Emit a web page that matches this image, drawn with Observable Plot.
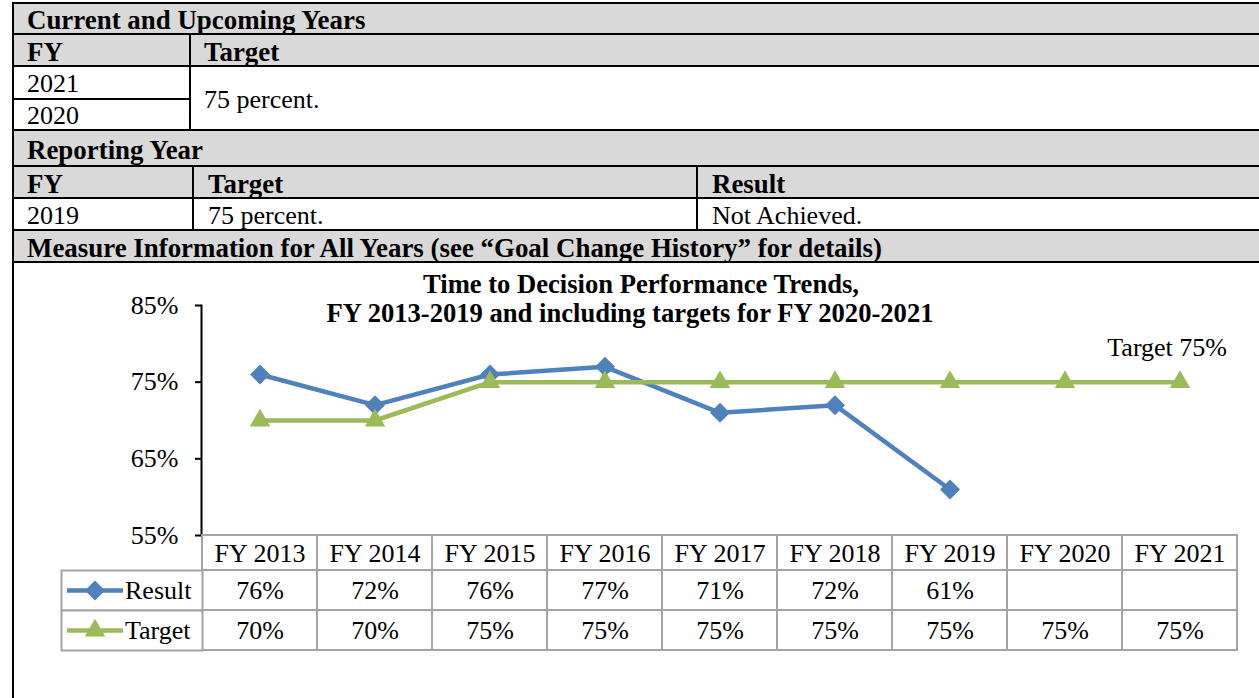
<!DOCTYPE html>
<html><head><meta charset="utf-8">
<script src="https://cdn.jsdelivr.net/npm/d3@7"></script>
<script src="https://cdn.jsdelivr.net/npm/@observablehq/plot@0.6"></script>
<style>
html,body{margin:0;padding:0;background:#fff;}
#page{position:relative;width:1259px;height:698px;overflow:hidden;font-family:"Liberation Serif","Times New Roman",serif;font-size:26px;color:#000;}
.box{position:absolute;}
.gray{background:#d9d9d9;}
.ln{position:absolute;background:#000;}
.txt{position:absolute;display:flex;align-items:center;line-height:26px;white-space:nowrap;}
.b{font-weight:bold;font-size:26.9px;}
.plotwrap{position:absolute;left:0;}
.plotwrap svg{overflow:visible;}
</style></head><body><div id="page"></div>
<script>
// ---------- data ----------
const years = ["FY 2013","FY 2014","FY 2015","FY 2016","FY 2017","FY 2018","FY 2019","FY 2020","FY 2021"];
const resultValues = [76, 72, 76, 77, 71, 72, 61];
const targetValues = [70, 70, 75, 75, 75, 75, 75, 75, 75];
const seriesNames = ["Result", "Target"];
const yTicks = [55, 65, 75, 85];
const titleLines = ["Time to Decision Performance Trends,", "FY 2013-2019 and including targets for FY 2020-2021"];
const annotationText = "Target 75%";
const upcomingHeader = "Current and Upcoming Years";
const upcomingYears = ["2021", "2020"];
const upcomingTarget = "75 percent.";
const reportingHeader = "Reporting Year";
const reportingYear = "2019";
const reportingTarget = "75 percent.";
const reportingResult = "Not Achieved.";
const measureHeader = "Measure Information for All Years (see \u201cGoal Change History\u201d for details)";
const colHeaders = ["FY", "Target", "Result"];

// ---------- styles ----------
const BLUE = "#4f81bd", GREEN = "#9bbb59", GRID = "#a3a3a3";
const FONT = "Liberation Serif, Times New Roman, serif";
const page = document.getElementById("page");

function el(cls, x, y, w, h, txt, bold) {
  const d = document.createElement("div");
  d.className = cls + (bold ? " b" : "");
  d.style.left = x + "px"; d.style.top = y + "px";
  if (w != null) d.style.width = w + "px";
  if (h != null) d.style.height = h + "px";
  if (txt != null) d.textContent = txt;
  page.appendChild(d);
  return d;
}

// gray header rows
[[2,34],[34,66],[130,166],[166,198],[230,262]].forEach(([a,b]) => el("box gray", 13, a, 1260, b - a));
// horizontal borders
[2.5,34,66,130,166,198,230,262].forEach(y => el("ln", 12, y - 1, 1260, 2));
el("ln", 12, 98, 178, 2);            // 2021 / 2020 divider
// vertical borders
el("ln", 12, 1.5, 2, 700);            // left border
el("ln", 189, 34, 2, 96);             // FY | Target (upcoming)
el("ln", 192, 166, 2, 64);            // FY | Target (reporting)
el("ln", 696, 166, 2, 64);            // Target | Result

// texts (row top, height)
const dy = 1.5;
el("txt", 27, 2 + dy, null, 32, upcomingHeader, true);
el("txt", 27, 34 + dy, null, 32, colHeaders[0], true);
el("txt", 204, 34 + dy, null, 32, colHeaders[1], true);
el("txt", 27, 66 + dy, null, 32, upcomingYears[0]);
el("txt", 27, 98 + dy, null, 32, upcomingYears[1]);
el("txt", 204, 66 + dy, null, 64, upcomingTarget);
el("txt", 27, 130 + dy, null, 36, reportingHeader, true);
el("txt", 27, 166 + dy, null, 32, colHeaders[0], true);
el("txt", 208, 166 + dy, null, 32, colHeaders[1], true);
el("txt", 712, 166 + dy, null, 32, colHeaders[2], true);
el("txt", 27, 198 + dy, null, 32, reportingYear);
el("txt", 208, 198 + dy, null, 32, reportingTarget);
el("txt", 712, 198 + dy, null, 32, reportingResult);
el("txt", 27, 230 + dy, null, 32, measureHeader, true);

// ---------- chart data ----------
const resultData = resultValues.map((v, i) => ({year: years[i], value: v, series: seriesNames[0]}));
const targetData = targetValues.map((v, i) => ({year: years[i], value: v, series: seriesNames[1]}));
const tableRows = seriesNames.flatMap((s, si) =>
  years.map((yr, i) => {
    const v = (si === 0 ? resultValues : targetValues)[i];
    return {series: s, year: yr, label: v == null ? "" : v + "%"};
  }));

const common = {width: 1259, marginLeft: 201, marginRight: 22,
  style: {fontFamily: FONT, fontSize: "26px", background: "transparent", overflow: "visible", color: "#000"}};
const xScale = {type: "band", domain: years, padding: 0, axis: null};

// main chart
const chart = Plot.plot({
  ...common, height: 273, marginTop: 43, marginBottom: 0,
  x: xScale,
  y: {domain: [55, 85], axis: null},
  marks: [
    Plot.frame({anchor: "left", stroke: "#000", strokeWidth: 2}),
    Plot.axisY({ticks: yTicks, label: null, tickSize: 6, tickPadding: 17, tickFormat: d => d + "%",
      fontSize: 26, stroke: "#000", strokeWidth: 2, fill: "#000"}),
    Plot.line(resultData, {x: "year", y: "value", stroke: BLUE, strokeWidth: 4.5}),
    Plot.dot(resultData, {x: "year", y: "value", symbol: "diamond2", r: 9, fill: BLUE, stroke: "none"}),
    Plot.line(targetData, {x: "year", y: "value", stroke: GREEN, strokeWidth: 4.5}),
    Plot.dot(targetData, {x: "year", y: "value", symbol: "triangle", r: 7.6, fill: GREEN, stroke: "none"}),
    Plot.text([targetData[targetData.length - 1]], {x: "year", y: "value", text: () => annotationText,
      textAnchor: "end", dx: 47, dy: -34, fontSize: 26, fill: "#000"})
  ]
});
const w1 = el("plotwrap", 0, 262); w1.appendChild(chart);

// title
titleLines.forEach((t, i) => {
  const c = i === 0 ? 641 : 630;
  const d = el("txt", c - 450, i === 0 ? 271 : 300, 900, 26, t, true);
  d.style.justifyContent = "center";
  d.style.fontSize = "26.6px";
});

// data table header row
const head = Plot.plot({
  ...common, height: 35, marginTop: 0, marginBottom: 0,
  x: xScale,
  marks: [
    Plot.cell(years, {x: d => d, fill: "#fff", stroke: GRID, strokeWidth: 2}),
    Plot.text(years, {x: d => d, text: d => d, frameAnchor: "middle", dy: 1, fontSize: 26, fill: "#000"})
  ]
});
const w2 = el("plotwrap", 0, 535); w2.appendChild(head);

// legend symbols
const boxSymbol = {draw(ctx) { ctx.rect(-70.5, -20, 141, 40); }};
const barSymbol = {draw(ctx) { ctx.rect(-28, -2.2, 56, 4.4); }};
const legendX = () => years[0];

const body = Plot.plot({
  ...common, height: 80, marginTop: 0, marginBottom: 0,
  x: xScale,
  y: {type: "band", domain: seriesNames, padding: 0, axis: null},
  marks: [
    Plot.cell(tableRows, {x: "year", y: "series", fill: "#fff", stroke: GRID, strokeWidth: 2}),
    Plot.dot(seriesNames, {x: legendX, y: d => d, symbol: boxSymbol, fill: "#fff", stroke: GRID, strokeWidth: 2, dx: -128}),
    Plot.dot(seriesNames, {x: legendX, y: d => d, symbol: barSymbol, fill: d => d === seriesNames[0] ? BLUE : GREEN, stroke: "none", dx: -165}),
    Plot.dot([seriesNames[0]], {x: legendX, y: d => d, symbol: "diamond2", r: 9, fill: BLUE, stroke: "none", dx: -165}),
    Plot.dot([seriesNames[1]], {x: legendX, y: d => d, symbol: "triangle", r: 7.6, fill: GREEN, stroke: "none", dx: -165}),
    Plot.text(seriesNames, {x: legendX, y: d => d, text: d => d, textAnchor: "start", dx: -135, fontSize: 26, fill: "#000"}),
    Plot.text(tableRows, {x: "year", y: "series", text: "label", fontSize: 26, fill: "#000"})
  ]
});
const w3 = el("plotwrap", 0, 570); w3.appendChild(body);
</script></body></html>
